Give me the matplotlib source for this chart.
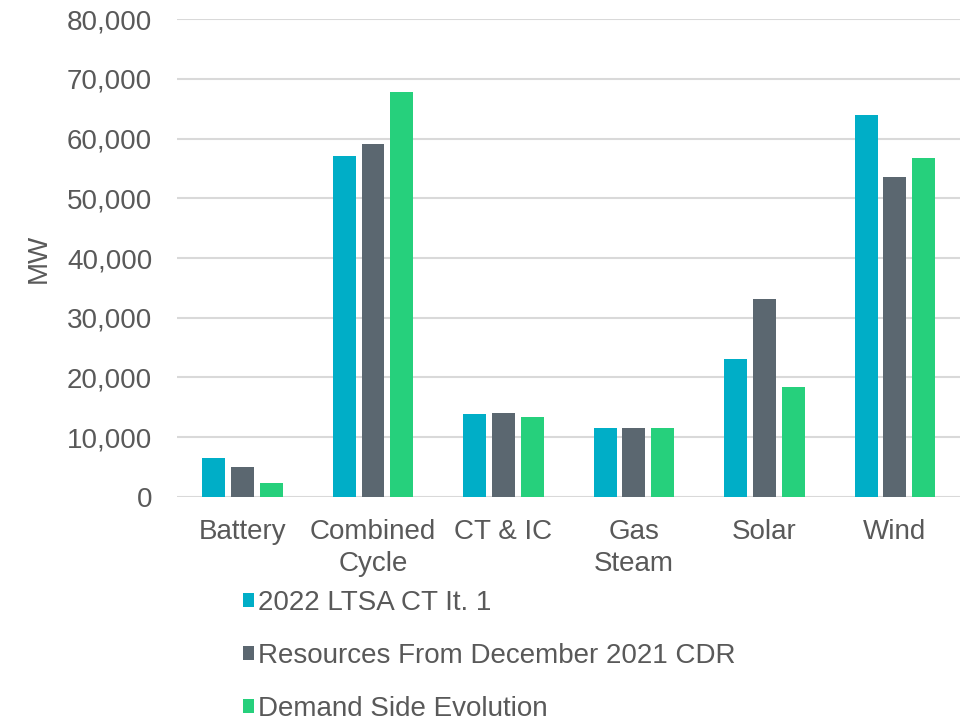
import matplotlib.pyplot as plt
import numpy as np

plt.rcParams['font.family'] = ['Liberation Sans', 'DejaVu Sans']

categories = ['Battery', 'Combined\nCycle', 'CT & IC', 'Gas\nSteam', 'Solar', 'Wind']
series_names = ['2022 LTSA CT It. 1', 'Resources From December 2021 CDR', 'Demand Side Evolution']
ltsa = [6500, 57000, 13900, 11600, 23100, 64000]
cdr = [5000, 59100, 14000, 11600, 33100, 53500]
dse = [2300, 67800, 13400, 11600, 18400, 56700]
colors = ['#00AEC7', '#5B6770', '#26D07C']
yticks = [0, 10000, 20000, 30000, 40000, 50000, 60000, 70000, 80000]

txt = '#595959'
fs = 20

fig = plt.figure(figsize=(9.63, 7.23), dpi=100)
ax = fig.add_axes([0.184, 0.3126, 0.813, 0.6611])

x = np.arange(len(categories))
w = 0.175
step = 0.22
for i, (vals, name) in enumerate(zip([ltsa, cdr, dse], series_names)):
    ax.bar(x + (i - 1) * step, vals, width=w, color=colors[i], label=name, zorder=3)

ax.set_xlim(-0.5, len(categories) - 0.5)
ax.set_ylim(0, 80000)
ax.set_yticks(yticks)
ax.set_yticklabels([f'{v:,}' for v in yticks])
ax.set_xticks(x)
ax.set_xticklabels(categories, linespacing=1.28)
ax.yaxis.grid(True, color='#d9d9d9', linewidth=1.5, zorder=0)
ax.set_axisbelow(True)
for s in ax.spines.values():
    s.set_visible(False)
ax.tick_params(axis='both', length=0, labelsize=fs, colors=txt)
ax.tick_params(axis='y', pad=18)
ax.tick_params(axis='x', pad=16)
ax.set_ylabel('MW', fontsize=fs, color=txt, labelpad=11)

fig.legend(loc='upper left', bbox_to_anchor=(0.252, 0.184), frameon=False,
           fontsize=fs, labelcolor=txt, handlelength=0.4, handleheight=0.4,
           handletextpad=0.15, labelspacing=0.98, borderaxespad=0, borderpad=0)

fig.savefig('out.png', dpi=100)
